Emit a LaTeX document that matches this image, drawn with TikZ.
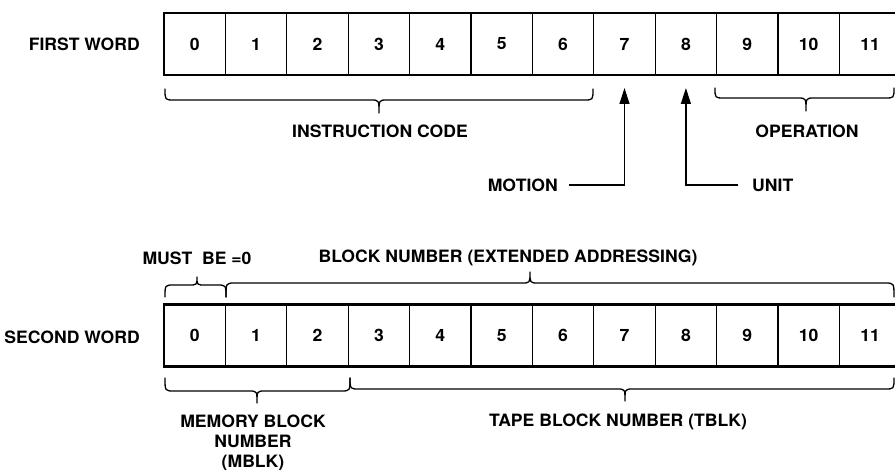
\documentclass[tikz,border=0pt]{standalone}
\usepackage{fontspec}
\setmainfont{TeX Gyre Heros}[FakeStretch=1.035]
\usetikzlibrary{arrows.meta}
\newcommand{\mybrace}[6]{% x1 x2 xtip yend yh ytip
  \draw[brace] (#1,#4) .. controls (#1,#5) .. ({#1+9},#5) -- ({#3-8},#5) .. controls (#3,#5) .. (#3,#6) .. controls (#3,#5) .. ({#3+8},#5) -- ({#2-9},#5) .. controls (#2,#5) .. (#2,#4);}
\begin{document}
\begin{tikzpicture}[x=1pt,y=-1pt,
  lbl/.style={font=\fontsize{17}{20}\selectfont\bfseries, inner sep=0pt, align=center},
  cell/.style={draw, line width=1.2pt, minimum width=61.4pt, minimum height=62pt, inner sep=0pt, outer sep=0pt, font=\fontsize{17}{19}\selectfont\bfseries},
  brace/.style={line width=1.3pt, line cap=round, line join=round},
  frame/.style={line width=2.6pt},
  arr/.style={line width=1.3pt, -{Triangle[length=16pt,width=10pt]}},
]
\useasboundingbox (0,0) rectangle (895,470);
\foreach \i in {0,...,11} {
  \node[cell] (f\i) at ({164+61.4*\i+30.7}, 44) {\i};
  \node[cell] (s\i) at ({164+61.4*\i+30.7}, 335.5) {\i};
}
\draw[frame] (f0.north west) rectangle (f11.south east);
\draw[frame] (s0.north west) rectangle (s11.south east);

\node[lbl, anchor=east] (fw) at (140,44) {FIRST WORD};
\node[lbl, anchor=east] (sw) at (140,337) {SECOND WORD};

\mybrace{165}{593}{379}{89}{100}{113}
\mybrace{715}{894}{806}{88}{98}{111}
\mybrace{165}{226}{197}{297}{285}{277}
\mybrace{226}{894}{530}{297}{283}{272}
\mybrace{165}{350}{257}{378}{391}{403}
\mybrace{350}{894}{625}{378}{389}{401}

\node[lbl] (ic) at (380,131) {INSTRUCTION CODE};
\node[lbl] (op) at (807,131) {OPERATION};
\node[lbl, anchor=east] (mo) at (558,185) {MOTION};
\node[lbl, anchor=west] (un) at (752,185) {UNIT};
\node[lbl] (mb) at (197,258) {MUST~~BE =0};
\node[lbl] (bn) at (508,258) {BLOCK NUMBER (EXTENDED ADDRESSING)};
\node[lbl] (mbn) at (253,443) {MEMORY BLOCK\\NUMBER\\(MBLK)};
\node[lbl] (tb) at (618,422) {TAPE BLOCK NUMBER (TBLK)};

\draw[arr] ([xshift=11pt]mo.east) -| ([yshift=-13pt]f7.south);
\draw[arr] ([xshift=-14pt]un.west) -| ([yshift=-13pt]f8.south);
\end{tikzpicture}
\end{document}
